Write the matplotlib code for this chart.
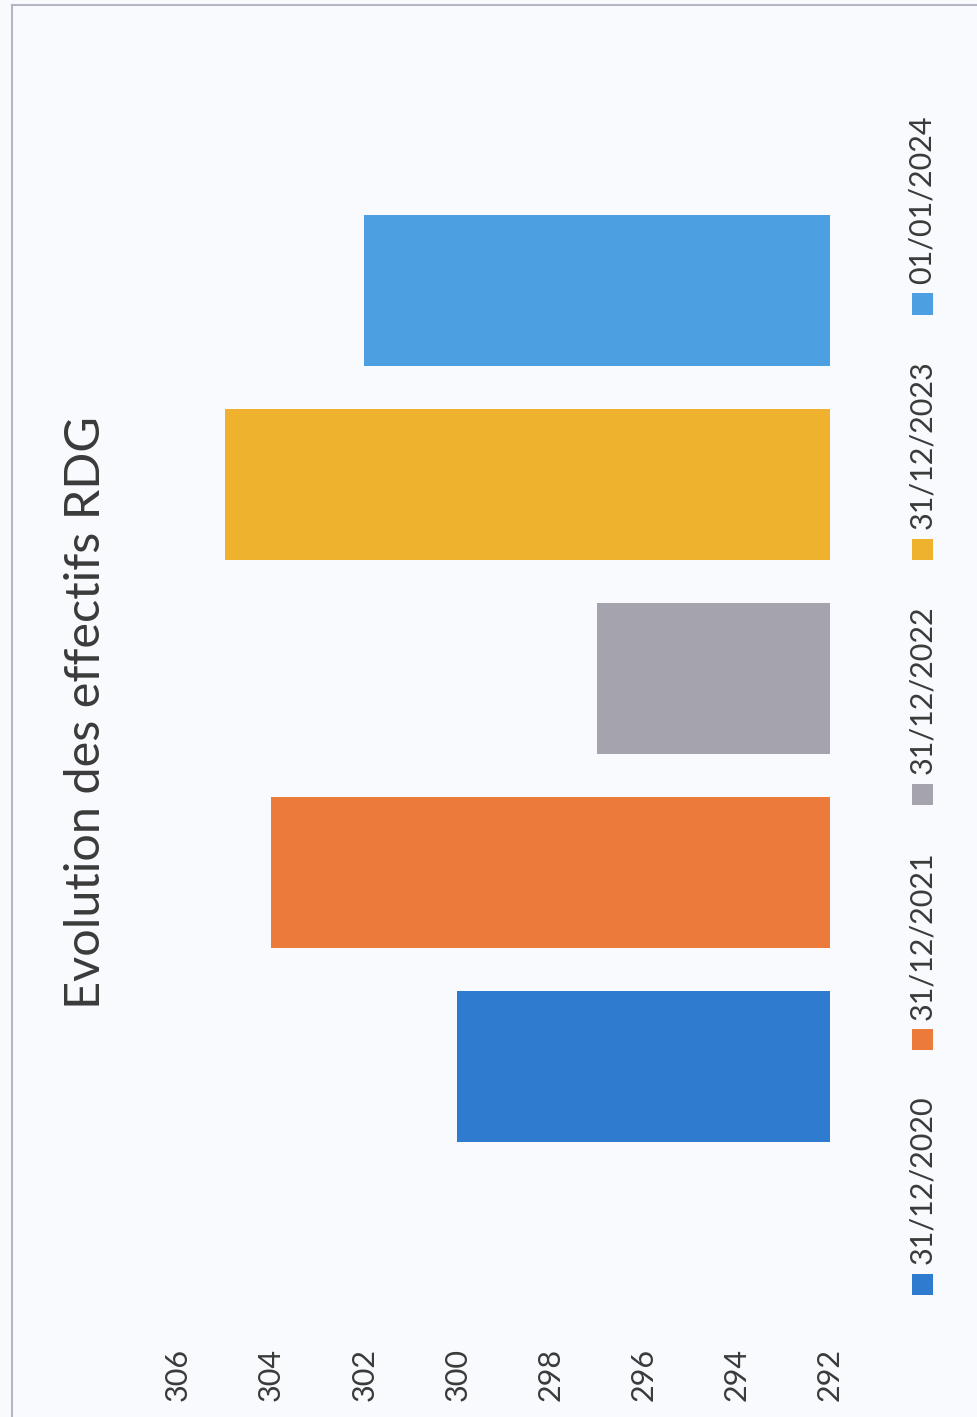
import matplotlib
matplotlib.use("Agg")
import matplotlib.pyplot as plt
from matplotlib.patches import Rectangle
from matplotlib.lines import Line2D

# Headcount at each reference date
dates = ["31/12/2020", "31/12/2021", "31/12/2022", "31/12/2023", "01/01/2024"]
effectifs = [300, 304, 297, 305, 302]
colors = ["#2f7bd0", "#ec7b3b", "#a5a4ae", "#efb22f", "#4c9fe0"]
value_ticks = [292, 294, 296, 298, 300, 302, 304, 306]
title = "Evolution des effectifs RDG"

W, H = 977, 1417
DPI = 100
BG = "#f8fafd"
TXT = "#3a3a3a"

plt.rcParams["font.family"] = ["Lato", "DejaVu Sans"]

fig = plt.figure(figsize=(W / DPI, H / DPI), dpi=DPI, facecolor=BG)


def fx(px):
    return px / W


def fy(py):
    return 1 - py / H


# Page is turned a quarter: values run right-to-left, dates bottom-to-top
ax_left, ax_right = 178, 830
ax_top, ax_bottom = 194, 1163
ax = fig.add_axes([fx(ax_left), fy(ax_bottom), (ax_right - ax_left) / W,
                   (ax_bottom - ax_top) / H])
ax.set_facecolor(BG)

ypos = list(range(len(dates)))
ax.barh(ypos, [v - value_ticks[0] for v in effectifs], left=value_ticks[0],
        height=0.78, color=colors)

ax.set_xlim(value_ticks[-1], value_ticks[0])
ax.set_ylim(-0.5, len(dates) - 0.5)
ax.set_xticks(value_ticks)
ax.set_xticklabels([str(t) for t in value_ticks], rotation=90, fontsize=22,
                   color=TXT)
ax.tick_params(axis="x", length=0, pad=133)
ax.set_yticks([])
for s in ax.spines.values():
    s.set_visible(False)

# Title, rotated with the page
fig.text(fx(86), fy(713), title, rotation=90, ha="center", va="center",
         fontsize=35, color=TXT)

# Legend, one entry per date, stacked upward along the right edge
leg_x = 922
first_y = 1284
step = 245
sq = 21
for i, (d, c) in enumerate(zip(dates, colors)):
    cy = first_y - i * step
    fig.patches.append(Rectangle((fx(leg_x - sq / 2), fy(cy + sq / 2)),
                                 sq / W, sq / H, transform=fig.transFigure,
                                 facecolor=c, edgecolor="none"))
    fig.text(fx(leg_x), fy(cy - sq / 2 - 9), d, rotation=90, ha="center",
             va="bottom", fontsize=22, color=TXT)

# Chart frame edges
fig.lines.append(Line2D([fx(12), fx(12)], [fy(5), 0], transform=fig.transFigure,
                        color="#b3b7c4", lw=1.5))
fig.lines.append(Line2D([fx(12), 1], [fy(5), fy(5)], transform=fig.transFigure,
                        color="#b3b7c4", lw=1.5))

fig.savefig("out.png", dpi=DPI, facecolor=BG)
